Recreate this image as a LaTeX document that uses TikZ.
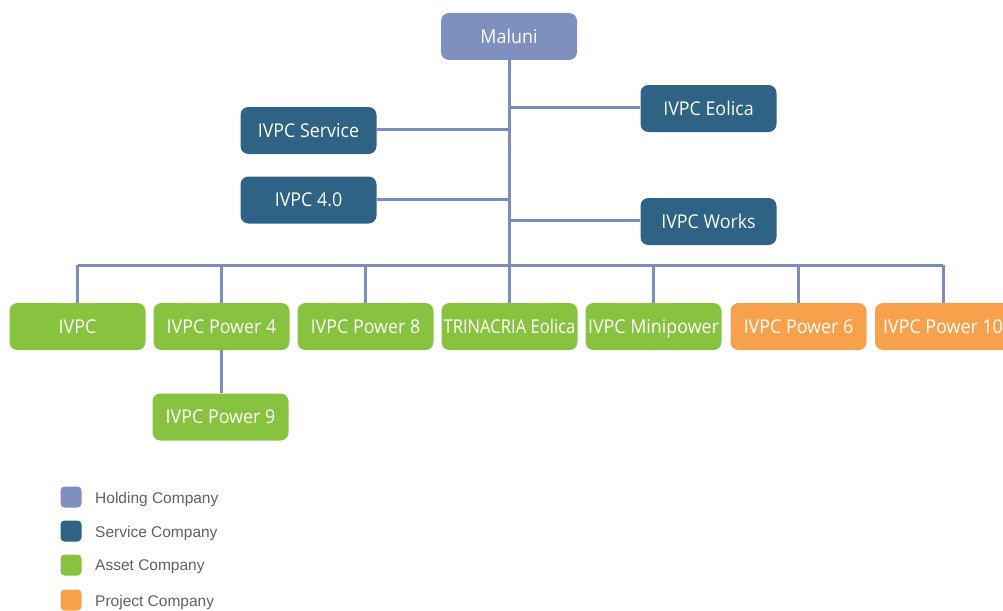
\documentclass[tikz,border=0pt]{standalone}
\usepackage{fontspec}
\setmainfont[FakeStretch=0.94]{Open Sans}
\newfontfamily\legfont{Liberation Sans}
\definecolor{holding}{HTML}{7F8FBF}
\definecolor{service}{HTML}{2E6385}
\definecolor{asset}{HTML}{88C340}
\definecolor{project}{HTML}{F8A14C}
\definecolor{linec}{HTML}{7B8DC0}
\definecolor{legtext}{HTML}{606060}
\tikzset{
  box/.style={rounded corners=8pt, minimum width=136pt, minimum height=47pt, inner sep=0pt,
    text height=13.6pt, text depth=0pt, text=white, font=\fontsize{19}{22}\selectfont},
  hold/.style={box, fill=holding},
  serv/.style={box, fill=service},
  asst/.style={box, fill=asset},
  proj/.style={box, fill=project},
  conn/.style={draw=linec, line width=3pt},
  legsq/.style={rounded corners=4pt, minimum size=21pt, inner sep=0pt},
  legtx/.style={anchor=west, text=legtext, inner sep=0pt, font=\legfont\fontsize{15.5}{18}\selectfont}
}
\begin{document}
\begin{tikzpicture}[x=1pt,y=-1pt]
\useasboundingbox (0,0) rectangle (1003,610);
\coordinate (top) at (509,60);
\coordinate (jn) at (509,265);
\coordinate (bl) at (77.5,265);
\coordinate (br) at (943,265);
\coordinate (jE) at (509,107);
\coordinate (jS) at (509,129);
\coordinate (j4) at (509,199);
\coordinate (jW) at (509,220);
% connectors first
\draw[conn] (top) -- (jn);
\draw[conn] (bl) -- (br);
\node[hold] (maluni) at (509,36.5) {Maluni};
\node[serv] (eolica) at (708.5,108.5) {IVPC Eolica};
\node[serv] (service) at (308.5,130.5) {IVPC Service};
\node[serv] (ivpc40) at (308.5,200) {IVPC 4.0};
\node[serv] (works) at (708.5,221.5) {IVPC Works};
\node[asst] (ivpc) at (77.5,326.5) {IVPC};
\node[asst] (p4) at (221.5,326.5) {IVPC Power 4};
\node[asst] (p8) at (365.5,326.5) {IVPC Power 8};
\node[asst] (trin) at (509.5,326.5) {\makebox[130pt][c]{\scalebox{0.93}[1]{TRINACRIA Eolica}}};
\node[asst] (mini) at (653.5,326.5) {IVPC Minipower};
\node[proj] (p6) at (798.5,326.5) {IVPC Power 6};
\node[proj] (p10) at (943,326.5) {IVPC Power 10};
\node[asst] (p9) at (220.5,417) {IVPC Power 9};
\draw[conn] (jE) -- (eolica.west |- jE);
\draw[conn] (jS) -- (service.east |- jS);
\draw[conn] (j4) -- (ivpc40.east |- j4);
\draw[conn] (jW) -- (works.west |- jW);
\foreach \n in {ivpc,p4,p8,trin,mini,p6,p10}{
  \draw[conn] (\n.north |- jn) -- (\n.north);
}
\draw[conn] (p4.south) -- (p4.south |- p9.north);
% legend
\node[legsq, fill=holding] (lh) at (71,497) {};
\node[legsq, fill=service] (ls) at (71,531) {};
\node[legsq, fill=asset] (la) at (71,565) {};
\node[legsq, fill=project] (lp) at (71,600) {};
\node[legtx] (th) at (95,499) {Holding Company};
\node[legtx] (ts) at (95,533) {Service Company};
\node[legtx] (ta) at (95,567) {Asset Company};
\node[legtx] (tp) at (95,602) {Project Company};
\end{tikzpicture}
\end{document}
